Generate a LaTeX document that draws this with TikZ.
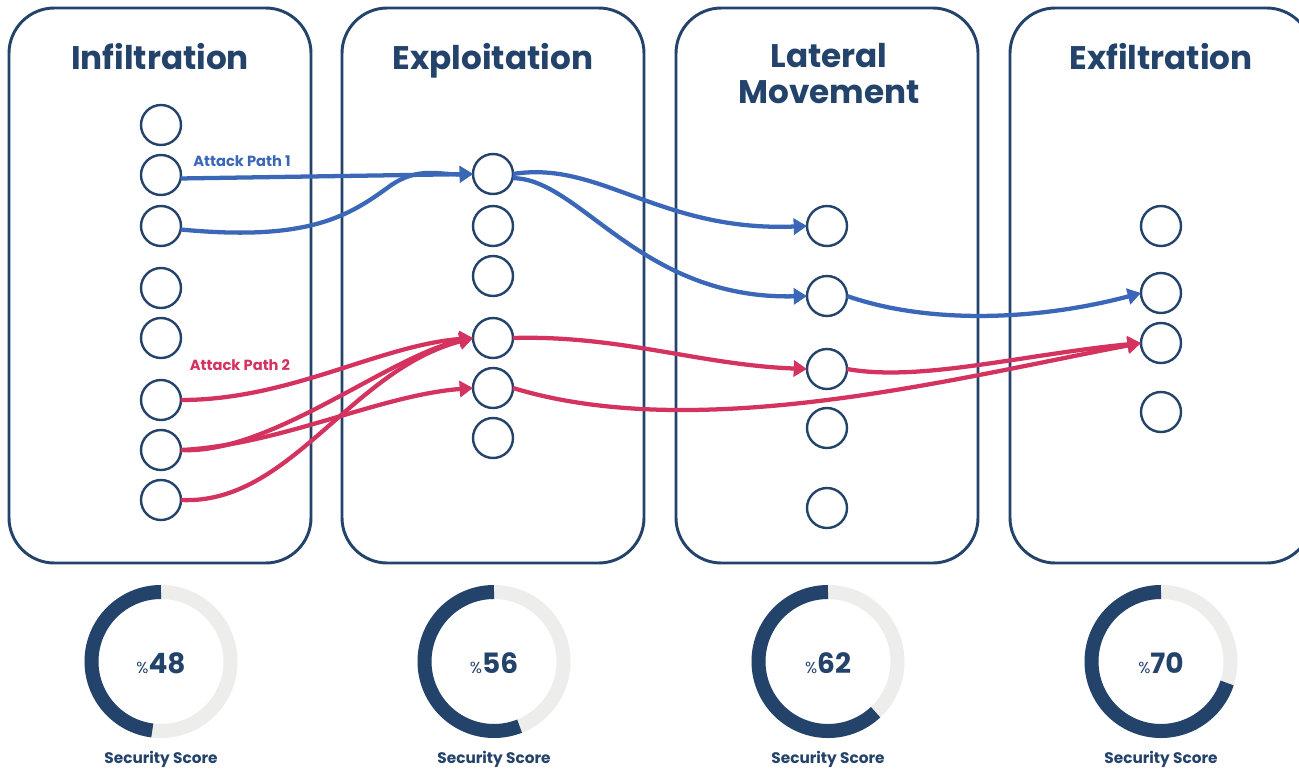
\documentclass[tikz,border=0pt]{standalone}
\usepackage{fontspec}
\setmainfont{Poppins}
\usetikzlibrary{arrows.meta}
\definecolor{navy}{HTML}{23436B}
\definecolor{pathblue}{HTML}{3A67B8}
\definecolor{pathred}{HTML}{D5335F}
\definecolor{ringgray}{HTML}{EDEDEB}
\begin{document}
\begin{tikzpicture}[x=0.75pt,y=-0.75pt,
  panel/.style={draw=navy, line width=2.2pt, rounded corners=34pt,
    minimum width=302*0.75pt, minimum height=555*0.75pt, inner sep=0pt},
  stage/.style={circle, draw=navy, line width=1.8pt, minimum size=40*0.75pt,
    inner sep=0pt, outer sep=0pt},
  title/.style={text=navy, font=\bfseries\fontsize{24.5}{27}\selectfont,
    align=center, anchor=north, inner sep=0pt},
  link/.style={line width=3.2pt, -{Triangle[length=10pt,width=12pt]}},
  bluepath/.style={link, draw=pathblue},
  redpath/.style={link, draw=pathred},
  pathlabel/.style={font=\bfseries\fontsize{11}{13}\selectfont, anchor=base, inner sep=0pt},
  ring/.style={line width=10.5pt},
  scoreval/.style={text=navy, anchor=base, inner sep=0pt},
  scorecap/.style={text=navy, font=\bfseries\fontsize{11.5}{13}\selectfont, anchor=base, inner sep=0pt}]

\useasboundingbox (0,0) rectangle (1299,768);
\fill[white] (0,0) rectangle (1299,768);
\clip (0,0) rectangle (1299,768);

% stage panels
\node[panel] (p1) at (160,285.5) {};
\node[panel] (p2) at (493,285.5) {};
\node[panel] (p3) at (827,285.5) {};
\node[panel] (p4) at (1161,285.5) {};

\node[title] (t1) at (160,43) {Infiltration};
\node[title] (t2) at (493,43) {Exploitation};
\node[title] (t3) at (829,43) {Lateral\\Movement};
\node[title] (t4) at (1161,43) {Exfiltration};

% assets in each stage
\node[stage] (a1) at (161,125) {};
\node[stage] (a2) at (161,175) {};
\node[stage] (a3) at (161,226) {};
\node[stage] (a4) at (161,288) {};
\node[stage] (a5) at (161,338) {};
\node[stage] (a6) at (161,400) {};
\node[stage] (a7) at (161,450) {};
\node[stage] (a8) at (161,500) {};

\node[stage] (b1) at (493,174) {};
\node[stage] (b2) at (493,226) {};
\node[stage] (b3) at (493,276) {};
\node[stage] (b4) at (493,338) {};
\node[stage] (b5) at (493,388) {};
\node[stage] (b6) at (493,438) {};

\node[stage] (c1) at (827,226) {};
\node[stage] (c2) at (827,296) {};
\node[stage] (c3) at (827,369) {};
\node[stage] (c4) at (827,428) {};
\node[stage] (c5) at (827,508) {};

\node[stage] (d1) at (1161,226) {};
\node[stage] (d2) at (1161,293) {};
\node[stage] (d3) at (1161,343) {};
\node[stage] (d4) at (1161,412) {};

% attack path 1
\node[pathlabel, text=pathblue] (l1) at (242,166) {Attack Path 1};
\draw[bluepath] (a2.-10) -- (b1.west);
\draw[bluepath] (a3.-10) .. controls (310,242) and (350,215) .. (390,186)
  .. controls (418,166) and (440,175) .. (b1.west);
\draw[bluepath] (b1.east) .. controls (600,160) and (660,232) .. (c1.west);
\draw[bluepath] (b1.-12) .. controls (580,178) and (640,300) .. (c2.west);
\draw[bluepath] (c2.east) .. controls (930,325) and (1040,320) .. (d2.west);

% attack path 2
\node[pathlabel, text=pathred] (l2) at (240,370) {Attack Path 2};
\draw[redpath] (a6.east) .. controls (290,400) and (380,345) .. (b4.west);
\draw[redpath] (a7.east) .. controls (270,455) and (390,355) .. (b4.west);
\draw[redpath] (a7.east) .. controls (280,445) and (380,395) .. (b5.west);
\draw[redpath] (a8.east) .. controls (290,505) and (350,370) .. (b4.west);
\draw[redpath] (b4.east) .. controls (620,335) and (700,365) .. (c3.west);
\draw[redpath] (b5.east) .. controls (700,445) and (960,377) .. (d3.west);
\draw[redpath] (c3.east) .. controls (920,382) and (1020,355) .. (d3.west);

% security score rings
\foreach \cx/\pct/\nm in {161/48/s1, 494/56/s2, 828/62/s3, 1161/70/s4}{
  \coordinate (\nm) at (\cx,661.5);
  \draw[ring, ringgray] (\nm) circle (69.5);
  \draw[ring, navy] (\nm) ++(-90:69.5) arc[start angle=-90, end angle={-90-3.6*\pct}, radius=69.5];
  \node[scoreval] (\nm v) at (\cx,673)
    {{\fontsize{12}{12}\selectfont\%}{\bfseries\fontsize{21}{21}\selectfont\pct}};
  \node[scorecap] (\nm c) at (\cx,763) {Security Score};
}
\end{tikzpicture}
\end{document}
